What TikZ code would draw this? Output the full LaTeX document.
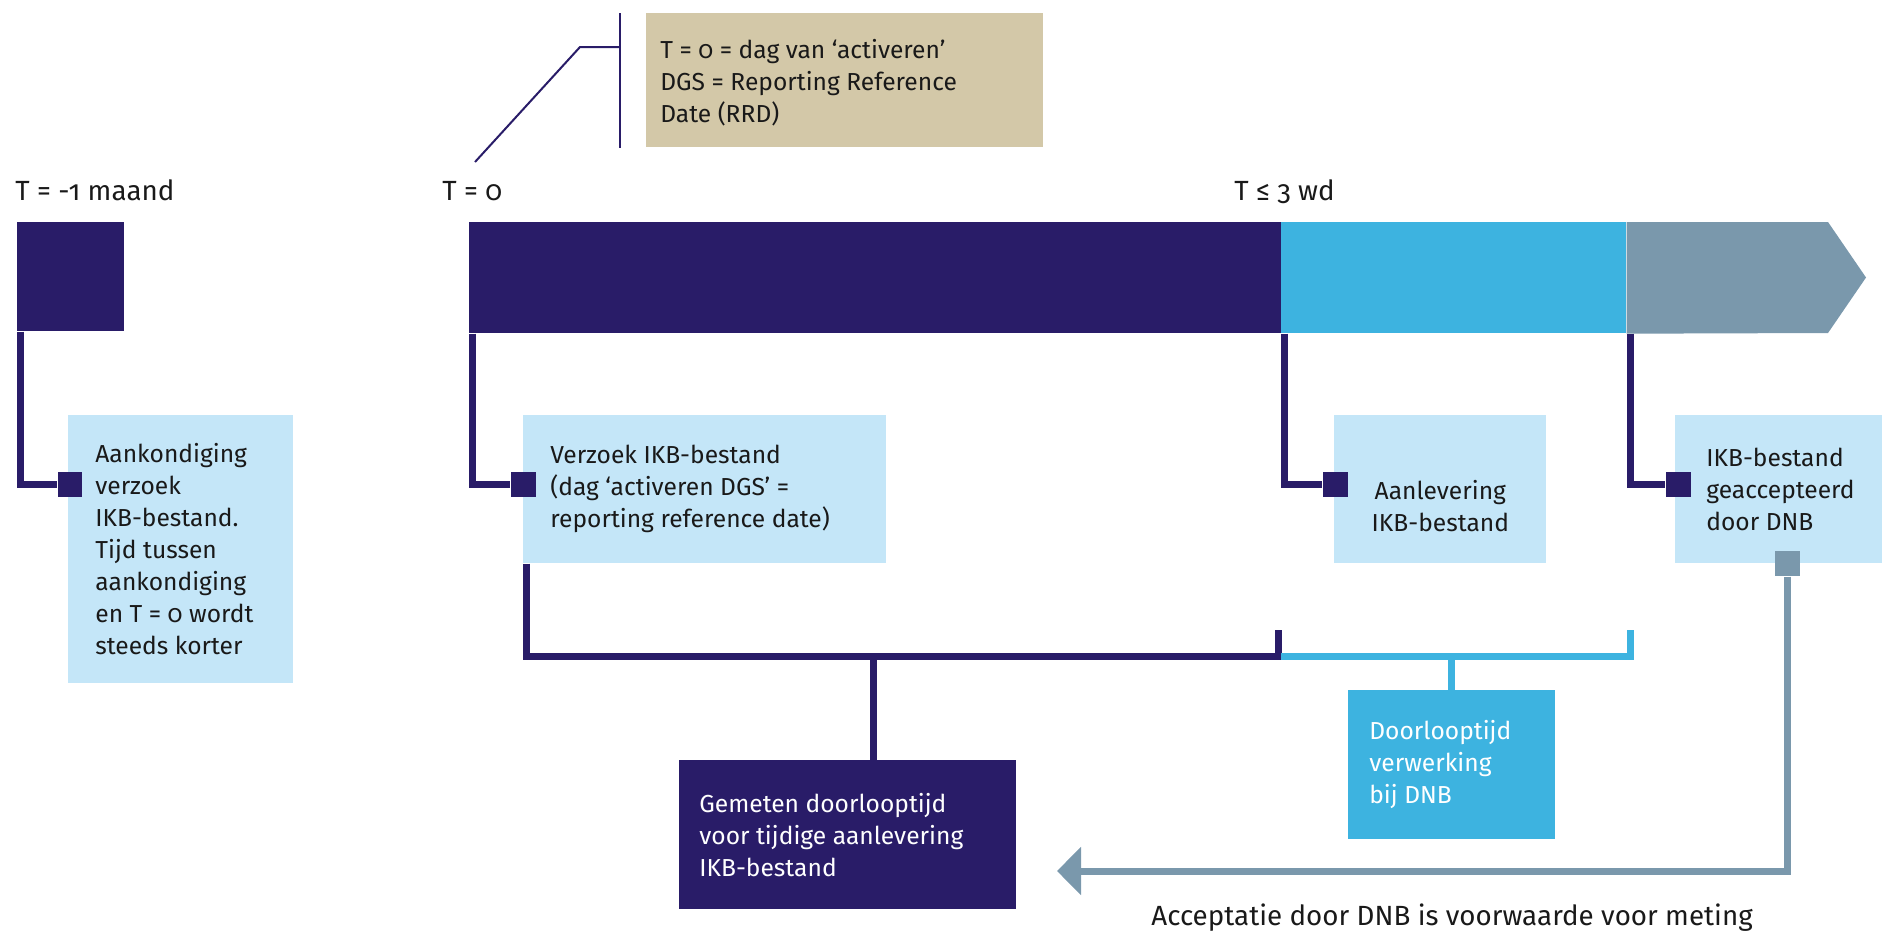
\documentclass[tikz,border=0pt]{standalone}
\usepackage{fontspec}
\setmainfont[Numbers=OldStyle]{Fira Sans}
\usetikzlibrary{calc,arrows.meta}

\definecolor{dnbnavy}{HTML}{291C68}
\definecolor{dnbblue}{HTML}{3DB3E0}
\definecolor{dnbgrey}{HTML}{7A98AC}
\definecolor{dnbpale}{HTML}{C4E6F8}
\definecolor{dnbtan}{HTML}{D3C8A8}

\tikzset{
  txt/.style={font=\fontsize{14}{18.2}\selectfont, align=left, inner sep=0pt, text=black!90},
  lbl/.style={txt, font=\fontsize{15.8}{19}\selectfont, anchor=base west},
  panel/.style={fill=dnbpale, inner sep=0pt, anchor=north west},
  marker/.style={fill=dnbnavy, inner sep=0pt, minimum size=0.5cm},
  link/.style={draw=dnbnavy, line width=0.14cm},
  linkblue/.style={draw=dnbblue, line width=0.14cm},
  linkgrey/.style={draw=dnbgrey, line width=0.14cm},
}

\begin{document}
\begin{tikzpicture}[x=0.02cm, y=-0.02cm]
\useasboundingbox (0,0) rectangle (1882,931);

% tijdbalk
\node[panel, fill=dnbnavy, minimum width=2.14cm, minimum height=2.18cm] (pre) at (17,222) {};
\node[panel, fill=dnbnavy, minimum width=16.24cm, minimum height=2.22cm] (fase1) at (469,222) {};
\node[panel, fill=dnbblue, minimum width=6.9cm, minimum height=2.22cm] (fase2) at (1281,222) {};
\fill[dnbgrey] (fase2.north east) -- (1828,222) -- (1866,277.5) -- (1828,333) -- (fase2.south east) -- cycle;

\node[lbl] (tmaand) at (15,200) {T = -1 maand};
\node[lbl] (tnul) at (442,200) {T = 0};
\node[lbl] (twd) at (1234,200) {T ≤ 3 wd};

% toelichting T = 0
\node[panel, fill=dnbtan, minimum width=7.94cm, minimum height=2.68cm] (note) at (646,13) {};
\node[txt, anchor=west] (notetxt) at ($(note.west)+(14,2)$) {T = 0 = dag van ‘activeren’\\DGS = Reporting Reference\\Date (RRD)};
\coordinate (tnulpunt) at (475,162);
\draw[dnbnavy, line width=0.04cm] ($(note.north west)+(-26,0)$) -- ($(note.south west)+(-26,0)$);
\draw[dnbnavy, line width=0.04cm] ($(note.north west)+(-26,34)$) -- ++(-40,0) -- (tnulpunt);

% stappen
\node[panel, minimum width=4.5cm, minimum height=5.36cm] (aank) at (68,415) {};
\node[txt, anchor=west] (aanktxt) at ($(aank.west)+(27,0)$) {Aankondiging\\verzoek\\IKB-bestand.\\Tijd tussen\\aankondiging\\en T = 0 wordt\\steeds korter};
\node[panel, minimum width=7.26cm, minimum height=2.96cm] (verzoek) at (523,415) {};
\node[txt, anchor=west] (verzoektxt) at ($(verzoek.west)+(27,0)$) {Verzoek IKB-bestand\\(dag ‘activeren DGS’ =\\reporting reference date)};
\node[panel, minimum width=4.24cm, minimum height=2.96cm] (aanlev) at (1334,415) {};
\node[txt, align=center] (aanlevtxt) at ($(aanlev.center)+(0,17)$) {Aanlevering\\IKB-bestand};
\node[panel, minimum width=4.3cm, minimum height=2.96cm] (accept) at (1675,415) {};
\node[txt, anchor=west] (accepttxt) at ($(accept.west)+(31,0)$) {IKB-bestand\\geaccepteerd\\door DNB};

\node[panel, fill=dnbnavy, minimum width=6.74cm, minimum height=2.98cm] (gemeten) at (679,760) {};
\node[txt, text=white, anchor=west] (gemetentxt) at ($(gemeten.west)+(20,0)$) {Gemeten doorlooptijd\\voor tijdige aanlevering\\IKB-bestand};
\node[panel, fill=dnbblue, minimum width=4.14cm, minimum height=2.98cm] (doorloop) at (1348,690) {};
\node[txt, text=white, anchor=west] (doorlooptxt) at ($(doorloop.west)+(21,0)$) {Doorlooptijd\\verwerking\\bij DNB};

% markeringen
\node[marker] (m1) at ($(aank.north west)+(2,69)$) {};
\node[marker] (m2) at ($(verzoek.north west)+(0,69)$) {};
\node[marker] (m3) at ($(aanlev.north west)+(1,69)$) {};
\node[marker] (m4) at ($(accept.north west)+(3,69)$) {};
\node[marker, fill=dnbgrey] (m5) at ($(accept.south west)+(112,0)$) {};

\draw[link] ($(pre.south west)+(3.5,0)$) |- (m1);
\draw[link] ($(fase1.south west)+(3.5,0)$) |- (m2);
\draw[link] ($(fase2.south west)+(3.5,0)$) |- (m3);
\draw[link] ($(fase2.south east)+(3.5,0)$) |- (m4);

% doorlooptijden
\coordinate (brL) at ($(verzoek.south west)+(3.5,93)$);
\draw[link] ($(verzoek.south west)+(3.5,0)$) -- (brL) -| ($(fase1.south east)+(-3.5,296)$);
\draw[linkblue] (brL -| fase2.south west) -| ($(fase2.south east)+(3.5,296)$);
\coordinate (gstem) at ($(gemeten.north west)+(194.5,0)$);
\draw[link] (gstem) -- (gstem |- brL);
\draw[linkblue] (doorloop.north) -- (doorloop.north |- brL);

% acceptatie
\coordinate (meting) at (1057,871);
\draw[linkgrey, -{Triangle[length=0.48cm,width=0.94cm]}] (m5) |- (meting);
\node[lbl] (voorwaarde) at (1151,925) {Acceptatie door DNB is voorwaarde voor meting};
\end{tikzpicture}
\end{document}
